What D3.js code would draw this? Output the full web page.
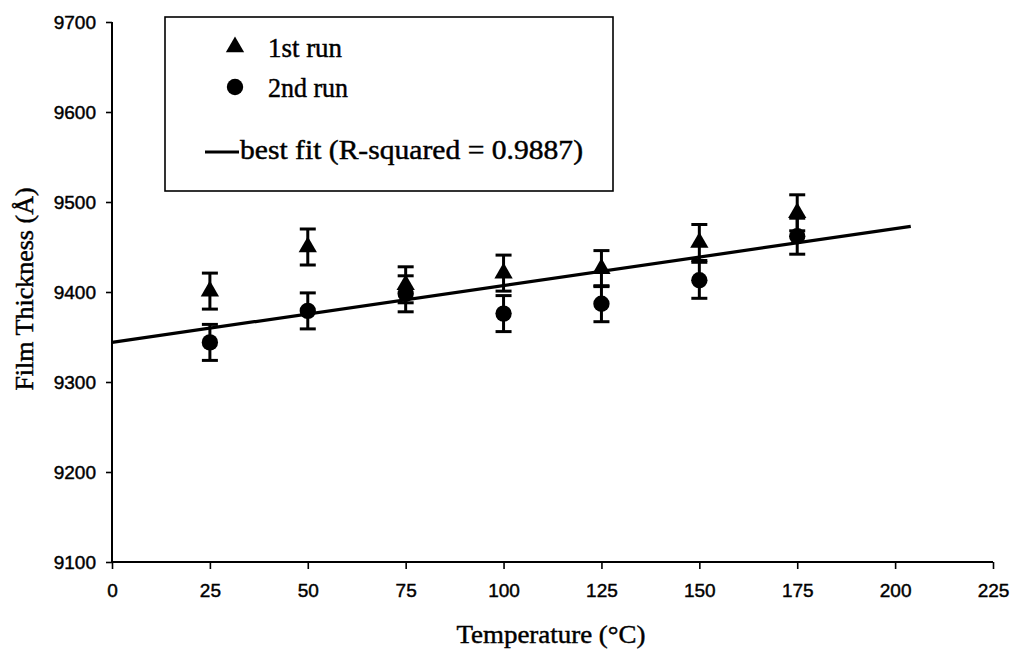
<!DOCTYPE html>
<html>
<head>
<meta charset="utf-8">
<script src="https://cdn.jsdelivr.net/npm/d3@7"></script>
<style>
  html, body { margin: 0; padding: 0; background: #fff; }
  svg { display: block; }
  text { stroke: #000; stroke-width: 0.45px; }
</style>
</head>
<body>
<svg id="chart" width="1014" height="659"></svg>
<script>
// ---- data ----
const temperatures = [25, 50, 75, 100, 125, 150, 175];
const run1 = [9401, 9450, 9408, 9421, 9426, 9455, 9488];
const run2 = [9344, 9379, 9398, 9376, 9387, 9413, 9462];
const errRun1 = [20, 20, 20, 20, 20, 20, 20];
const errRun2 = [20, 20, 20, 20, 20, 20, 20];
const fitX = [0, 204];
const fitIntercept = 9344;
const fitSlope = 0.632;
const xTicks = [0, 25, 50, 75, 100, 125, 150, 175, 200, 225];
const yTicks = [9100, 9200, 9300, 9400, 9500, 9600, 9700];
const legendLabels = ["1st run", "2nd run", "best fit (R-squared = 0.9887)"];
const xTitle = "Temperature (°C)";
const yTitle = "Film Thickness (Å)";

// ---- layout ----
const svg = d3.select("#chart");
const x = d3.scaleLinear().domain([0, 225]).range([112, 993]);
const y = d3.scaleLinear().domain([9100, 9700]).range([562, 22]);
const serif = "'Liberation Serif', 'Times New Roman', serif";
const sans = "'Liberation Sans', Arial, sans-serif";

// axes
const xAxis = svg.append("g").attr("transform", `translate(0,${y(9100)})`)
  .call(d3.axisBottom(x).tickValues(xTicks).tickSize(7).tickPadding(15).tickFormat(d3.format("d")));
const yAxis = svg.append("g").attr("transform", `translate(${x(0)},0)`)
  .call(d3.axisLeft(y).tickValues(yTicks).tickSize(6).tickPadding(10).tickFormat(d3.format("d")));
[xAxis, yAxis].forEach(g => {
  g.select(".domain").attr("stroke", "#000").attr("stroke-width", 2);
  g.selectAll(".tick line").attr("stroke", "#000").attr("stroke-width", 1.6);
  g.selectAll(".tick text").attr("fill", "#000").style("font-family", sans)
    .style("font-size", "19px");
});
xAxis.select(".domain").attr("d", `M${x(0)},0H${x(225)}`);
yAxis.select(".domain").attr("d", `M0,${y(9100)}V${y(9700)}`);

// axis titles
svg.append("text").attr("x", 551).attr("y", 643).attr("text-anchor", "middle")
  .attr("textLength", 189).attr("lengthAdjust", "spacingAndGlyphs")
  .style("font-family", serif).style("font-size", "26px").text(xTitle);
svg.append("text").attr("transform", "translate(33,289) rotate(-90)").attr("text-anchor", "middle")
  .style("font-family", serif).style("font-size", "26px").text(yTitle);

// fit line
svg.append("line")
  .attr("x1", x(fitX[0])).attr("y1", y(fitIntercept + fitSlope * fitX[0]))
  .attr("x2", x(fitX[1])).attr("y2", y(fitIntercept + fitSlope * fitX[1]))
  .attr("stroke", "#000").attr("stroke-width", 3.2);

// error bars + markers
function drawSeries(vals, errs, symbolType) {
  const g = svg.append("g");
  temperatures.forEach((t, i) => {
    const cx = x(t), v = vals[i], e = errs[i];
    g.append("line").attr("x1", cx).attr("x2", cx).attr("y1", y(v - e)).attr("y2", y(v + e))
      .attr("stroke", "#000").attr("stroke-width", 3);
    [v - e, v + e].forEach(b => {
      g.append("line").attr("x1", cx - 8).attr("x2", cx + 8).attr("y1", y(b)).attr("y2", y(b))
        .attr("stroke", "#000").attr("stroke-width", 3);
    });
  });
  g.selectAll("path.m").data(temperatures).join("path").attr("class", "m")
    .attr("d", d3.symbol().type(symbolType).size(symbolType === d3.symbolCircle ? 210 : 145))
    .attr("transform", (t, i) => `translate(${x(t)},${y(vals[i])})`)
    .attr("fill", "#000");
}
drawSeries(run1, errRun1, d3.symbolTriangle);
drawSeries(run2, errRun2, d3.symbolCircle);

// legend
const lg = svg.append("g");
lg.append("rect").attr("x", 165).attr("y", 17).attr("width", 448).attr("height", 174)
  .attr("fill", "#fff").attr("stroke", "#000").attr("stroke-width", 1.6);
lg.append("path").attr("d", d3.symbol().type(d3.symbolTriangle).size(145)())
  .attr("transform", "translate(235,47)").attr("fill", "#000");
lg.append("path").attr("d", d3.symbol().type(d3.symbolCircle).size(210)())
  .attr("transform", "translate(235,87)").attr("fill", "#000");
lg.append("line").attr("x1", 205).attr("x2", 239).attr("y1", 152).attr("y2", 152)
  .attr("stroke", "#000").attr("stroke-width", 3);
const legendWidths = [74, 80, 343];
[[268, 57], [268, 97], [240, 159]].forEach((p, i) => {
  lg.append("text").attr("x", p[0]).attr("y", p[1])
    .attr("textLength", legendWidths[i]).attr("lengthAdjust", "spacingAndGlyphs")
    .style("font-family", serif).style("font-size", "27px").text(legendLabels[i]);
});
</script>
</body>
</html>
